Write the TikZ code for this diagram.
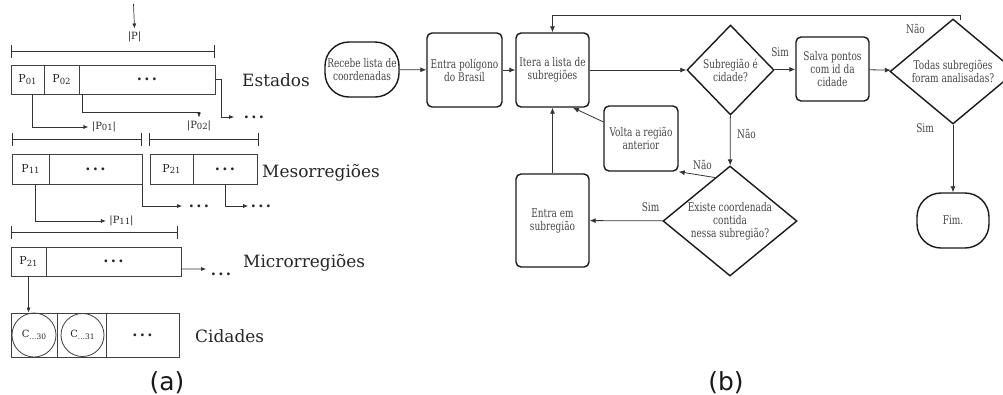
\documentclass[tikz,border=0pt]{standalone}
\usepackage{fontspec}
\setmainfont{DejaVu Serif}
\setsansfont{DejaVu Sans}
\newfontfamily\flowfont{DejaVu Serif}[FakeStretch=0.75]
\usetikzlibrary{shapes.geometric,arrows.meta,calc}
\newcommand{\psubx}[1]{P\raisebox{-1.2bp}{\fontsize{8.5}{9}\selectfont #1}}
\newcommand{\csubx}[1]{C\raisebox{-1.5bp}{\fontsize{7.5}{8}\selectfont ...#1}}
\newcommand{\dtsx}{{\fontsize{15}{16}\selectfont\textbf{.\kern2.4bp.\kern2.4bp.}}}
\begin{document}
\begin{tikzpicture}[x=1bp,y=-1bp,
  cell/.style={draw=black!75, line width=0.8bp, inner sep=0pt, text=black!85,
    font=\fontsize{11}{13}\selectfont},
  plab/.style={inner sep=1bp, outer sep=2.5bp, text=black!85, font=\fontsize{10}{12}\selectfont},
  dotsn/.style={inner sep=0.5bp, text=black!85},
  lab/.style={anchor=base west, inner sep=0pt, text=black!85, font=\fontsize{17}{20}\selectfont},
  arr/.style={-{Latex[length=5bp,width=4bp]}, line width=0.7bp, draw=black!80},
  brk/.style={{Bar[width=13bp]}-{Bar[width=13bp]}, line width=0.7bp, draw=black!80},
  fbox/.style={draw=black!90, line width=1.4bp, rounded corners=5bp, align=center, inner sep=1bp,
    text=black!72, font=\flowfont\fontsize{12}{13}\selectfont},
  stad/.style={fbox, rounded corners=24bp},
  dia/.style={diamond, aspect=1.25, draw=black!90, line width=1.4bp, align=center, inner sep=0pt,
    text=black!72, font=\flowfont\fontsize{12}{13}\selectfont},
  farr/.style={-{Latex[length=6bp,width=5bp]}, line width=0.8bp, draw=black!80},
  flab/.style={inner sep=0pt, text=black!72, font=\flowfont\fontsize{12}{13}\selectfont},
  caption/.style={inner sep=0pt, anchor=base, text=black!90, font=\sffamily\fontsize{25}{28}\selectfont}
]
\useasboundingbox[fill=white] (0,0) rectangle (1003,394);

% ================= (a) =================
\coordinate (topc) at (133.5,4);
\node[plab] (lP) at (134.5,37) {|P|};
\draw[arr] (topc) -- (lP.north);
\draw[brk] (11,51) -- (215,51);

% Estados
\node[cell, minimum width=33bp, minimum height=29bp] (p01) at (27.5,79.5) {\psubx{01}};
\node[cell, minimum width=35bp, minimum height=29bp] (p02) at (61.5,79.5) {\psubx{02}};
\node[cell, minimum width=136bp, minimum height=29bp] (erest) at (147,79.5) {\dtsx};
\node[lab] (lest) at (242,86) {Estados};

\node[dotsn] (ed) at (254,117) {\dtsx};
\draw[arr] (erest.east) -- ++(6,0) |- ([xshift=-9bp]ed.west);

\node[plab] (lP02) at (199,126) {|\psubx{02}|};
\draw[arr] ($(erest.south west)+(4,0)$) -- ++(0,17.5) -| (lP02.north);

\node[plab] (lP01) at (104,127) {|\psubx{01}|};
\draw[arr] ($(p01.south)+(4.5,0)$) |- (lP01.west);

\draw[brk] (12,139) -- (142,139);
\draw[brk] (149,139) -- (259,139);

% Mesorregioes
\node[cell, minimum width=37bp, minimum height=30bp] (p11) at (30.5,169) {\psubx{11}};
\node[cell, minimum width=93bp, minimum height=30bp] (m1rest) at (95.5,169) {\dtsx};
\node[cell, minimum width=43bp, minimum height=30bp] (p21a) at (171.5,169) {\psubx{21}};
\node[cell, minimum width=64bp, minimum height=30bp] (m2rest) at (225,169) {\dtsx};
\node[lab] (lmes) at (262,177) {Mesorregiões};

\node[dotsn] (md1) at (199,206) {\dtsx};
\draw[arr] (m1rest.south east) |- ([xshift=-6bp]md1.west);
\node[dotsn] (md2) at (261,206) {\dtsx};
\draw[arr] (m2rest.south) |- ([xshift=-2bp]md2.west);

\node[plab] (lP11) at (121.5,221) {|\psubx{11}|};
\draw[arr] ($(p11.south)+(4.5,0)$) |- (lP11.west);

\draw[brk] (11,232) -- (178,232);

% Microrregioes
\node[cell, minimum width=35bp, minimum height=29bp] (p21b) at (28.5,261.5) {\psubx{21}};
\node[cell, minimum width=135bp, minimum height=29bp] (mirest) at (113.5,261.5) {\dtsx};
\node[lab] (lmic) at (243,267) {Microrregiões};
\node[dotsn] (mid) at (221,274) {\dtsx};
\draw[arr] ($(mirest.east)+(0,7.5)$) -- ($(mid.west)+(-4,-5)$);

% Cidades
\node[cell, minimum width=46bp, minimum height=44bp] (c30cell) at (34,335) {};
\node[cell, minimum width=49bp, minimum height=44bp] (c31cell) at (81.5,335) {};
\node[cell, minimum width=73bp, minimum height=44bp] (crest) at (142.5,335) {\dtsx};
\node[cell, circle, minimum size=44bp, font=\fontsize{10}{12}\selectfont] (cc30) at (34,335) {\csubx{30}};
\node[cell, circle, minimum size=43bp, font=\fontsize{10}{12}\selectfont] (cc31) at (82.5,335) {\csubx{31}};
\node[lab] (lcid) at (195,342) {Cidades};
\draw[arr] (p21b.south) -- (p21b.south |- c30cell.north);

\node[caption] (capa) at (167,390) {(a)};

% ================= (b) =================
\node[stad, minimum width=74bp, minimum height=55bp] (recebe) at (362,69.5) {Recebe lista de\\coordenadas};
\node[fbox, minimum width=75bp, minimum height=74bp] (entra) at (464.5,70) {Entra polígono\\do Brasil};
\node[fbox, minimum width=73bp, minimum height=74bp] (itera) at (552.5,70) {Itera a lista de\\subregiões};
\node[dia, minimum width=87bp, minimum height=90bp] (dcid) at (730.5,70) {Subregião é\\cidade?};
\node[fbox, minimum width=73bp, minimum height=64bp] (salva) at (832.5,69) {Salva pontos\\com id da\\cidade};
\node[dia, minimum width=126bp, minimum height=105bp] (dtodas) at (953,71.5) {Todas subregiões\\foram analisadas?};
\node[stad, minimum width=72bp, minimum height=55bp] (fim) at (953,220.5) {Fim.};
\node[fbox, minimum width=74bp, minimum height=65bp] (volta) at (641,138.5) {Volta a região\\anterior};
\node[dia, minimum width=134bp, minimum height=110bp] (dexist) at (730,221) {Existe coordenada\\contida\\nessa subregião?};
\node[fbox, minimum width=73bp, minimum height=93bp] (entrasub) at (552.5,220.5) {Entra em\\subregião};

\draw[farr] (recebe) -- (entra);
\draw[farr] (entra) -- (itera);
\draw[farr] (itera) -- (dcid);
\draw[farr] (dcid) -- (salva);
\draw[farr] (salva) -- (dtodas);
\draw[farr] (dtodas) -- (fim);
\coordinate (tback) at (960,20);
\draw[farr] (tback) -- (960,15) -| (itera.north);
\draw[farr] (dcid) -- (dexist);
\draw[farr] ($(dexist.west)!0.78!(dexist.north)$) -- (volta.south east);
\draw[farr] ($(volta.north west)!0.25!(volta.south west)$) -- ($(itera.south)!0.55!(itera.south east)$);
\draw[farr] (dexist) -- (entrasub);
\draw[farr] (entrasub) -- (itera);

\node[flab] (lsim1) at (780,52) {Sim};
\node[flab] (lnao1) at (915.5,29) {Não};
\node[flab] (lsim2) at (925,128) {Sim};
\node[flab] (lnao2) at (746.5,134) {Não};
\node[flab] (lnao3) at (702.5,165) {Não};
\node[flab] (lsim3) at (650.5,207) {Sim};

\node[caption] (capb) at (726,390) {(b)};
\end{tikzpicture}
\end{document}
